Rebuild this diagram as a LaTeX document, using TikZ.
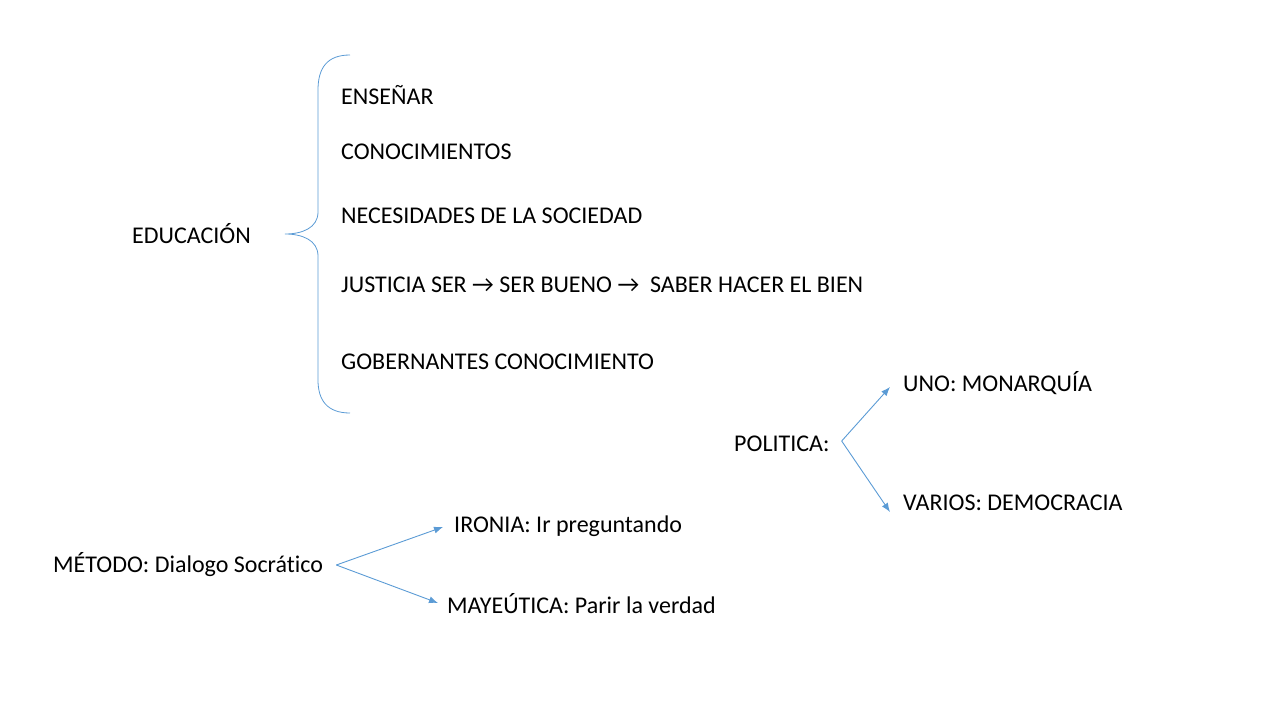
\documentclass[tikz,border=0pt]{standalone}
\usepackage{fontspec}
\setmainfont{Carlito}[Ligatures={NoCommon}]
\usetikzlibrary{arrows.meta}
\usetikzlibrary{positioning}
\definecolor{lineblue}{HTML}{5B9BD5}

\begin{document}
\begin{tikzpicture}[x=1pt, y=-1pt]
\tikzset{ItemStyle/.style = {anchor=west, inner sep=0pt, font=\fontsize{24}{28}\selectfont}}
\tikzset{EdgeStyle/.style = {-{Latex[length=9pt, width=7pt]}, draw=lineblue, line width=0.9pt}}
	\useasboundingbox (0,0) rectangle (1280,720);

	% educacion
	\node[ItemStyle] (edu) at (132,234) {EDUCACIÓN};
	\node[ItemStyle] (ens) at (341,95) {ENSEÑAR};
	\node[ItemStyle] (con) at (341,152) {CONOCIMIENTOS};
	\node[ItemStyle] (nec) at (341,216) {NECESIDADES DE LA SOCIEDAD};
	\node[ItemStyle] (jus) at (341,285) {JUSTICIA SER → SER BUENO →\ \ SABER HACER EL BIEN};
	\node[ItemStyle] (gob) at (341,362) {GOBERNANTES CONOCIMIENTO};
	\draw[draw=lineblue, line width=0.8pt] (350,55) .. controls (327,55) and (318,68) .. (318,90)
		-- (318,212) .. controls (318,228) and (302,234) .. (285,234)
		.. controls (302,234) and (318,240) .. (318,256)
		-- (318,380) .. controls (318,400) and (327,413) .. (350,413);

	% politica
	\node[ItemStyle] (pol) at (734,444) {POLITICA:};
	\node[ItemStyle] (uno) at (903,383) {UNO: MONARQUÍA};
	\node[ItemStyle] (var) at (903,503) {VARIOS: DEMOCRACIA};
	\draw[EdgeStyle] ([shift={(12,-3)}]pol.east) -- ([shift={(-13,4)}]uno.west);
	\draw[EdgeStyle] ([shift={(12,-3)}]pol.east) -- ([shift={(-13,9)}]var.west);

	% metodo
	\node[ItemStyle] (met) at (53,565) {MÉTODO: Dialogo Socrático};
	\node[ItemStyle] (iro) at (454,526) {IRONIA: Ir preguntando};
	\node[ItemStyle] (may) at (447,604) {MAYEÚTICA: Parir la verdad};
	\draw[EdgeStyle] ([xshift=13]met.east) -- ([shift={(-11,1)}]iro.west);
	\draw[EdgeStyle] ([xshift=13]met.east) -- ([shift={(-9,-1)}]may.west);
\end{tikzpicture}
\end{document}
